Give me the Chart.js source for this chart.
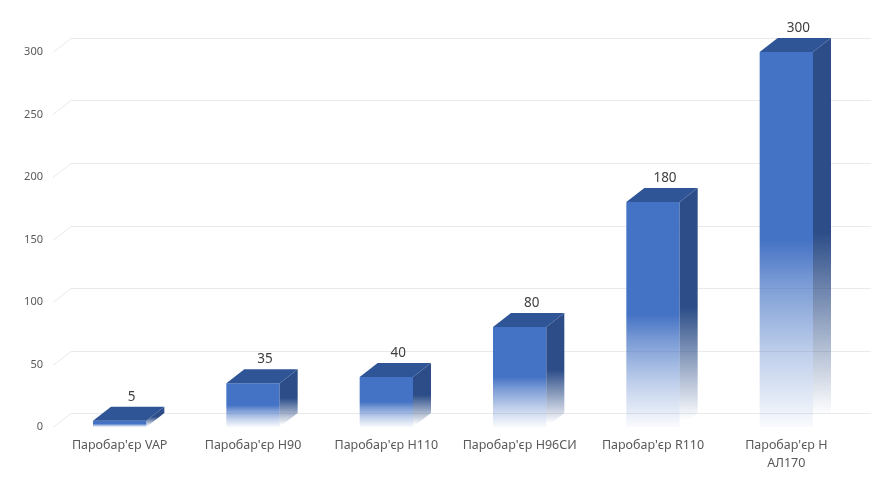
<!DOCTYPE html>
<html>
<head>
<meta charset="utf-8">
<script src="https://cdn.jsdelivr.net/npm/chart.js@4.4.0/dist/chart.umd.min.js"></script>
<style>
  html, body { margin: 0; padding: 0; background: #ffffff; }
  #wrap { width: 891px; height: 478px; position: relative; }
</style>
</head>
<body>
<div id="wrap"><canvas id="c" width="891" height="478"></canvas></div>
<script>
const categories = [
  "Паробар'єр VAP",
  "Паробар'єр Н90",
  "Паробар'єр Н110",
  "Паробар'єр Н96СИ",
  "Паробар'єр R110",
  ["Паробар'єр Н", "АЛ170"]
];
const values = [5, 35, 40, 80, 180, 300];
const yTicks = [0, 50, 100, 150, 200, 250, 300];

const DX = 18, DY = -14;
const FRONT = '#4472C4';
const TOP = '#2F5597';
const SIDE = '#2C4D88';

function rgba(hex, a) {
  const n = parseInt(hex.slice(1), 16);
  return `rgba(${(n >> 16) & 255},${(n >> 8) & 255},${n & 255},${a})`;
}

const box3d = {
  id: 'box3d',
  beforeDatasetsDraw(chart) {
    const { ctx, chartArea: a, scales: { y } } = chart;
    ctx.save();
    ctx.strokeStyle = '#EAEAEA';
    ctx.lineWidth = 1;
    yTicks.forEach(v => {
      const py = Math.round(y.getPixelForValue(v)) + 0.5;
      ctx.beginPath();
      ctx.moveTo(a.left, py);
      ctx.lineTo(a.left + DX, py + DY);
      ctx.lineTo(a.right + DX, py + DY);
      ctx.stroke();
    });
    ctx.restore();
  },
  afterDatasetsDraw(chart) {
    const { ctx, scales: { y } } = chart;
    const meta = chart.getDatasetMeta(0);
    const base = y.getPixelForValue(0);
    ctx.save();
    meta.data.forEach((bar, i) => {
      const half = bar.width / 2;
      const l = bar.x - half, r = bar.x + half, t = bar.y;
      const h = base - t;
      // side face
      const gs = ctx.createLinearGradient(0, t + DY, 0, base);
      gs.addColorStop(0, SIDE);
      gs.addColorStop(0.5, SIDE);
      gs.addColorStop(0.97, rgba(SIDE, 0.0));
      gs.addColorStop(1, rgba(SIDE, 0.0));
      ctx.fillStyle = gs;
      ctx.beginPath();
      ctx.moveTo(r, t);
      ctx.lineTo(r + DX, t + DY);
      ctx.lineTo(r + DX, base + DY);
      ctx.lineTo(r, base);
      ctx.closePath();
      ctx.fill();
      // top face
      ctx.fillStyle = TOP;
      ctx.beginPath();
      ctx.moveTo(l, t);
      ctx.lineTo(l + DX, t + DY);
      ctx.lineTo(r + DX, t + DY);
      ctx.lineTo(r, t);
      ctx.closePath();
      ctx.fill();
      // value label
      ctx.fillStyle = '#404040';
      ctx.font = '13.5px "Noto Sans", sans-serif';
      ctx.textAlign = 'center';
      ctx.textBaseline = 'middle';
      ctx.fillText(String(values[i]), bar.x + 12, t + DY - 10);
    });
    ctx.restore();
  }
};

new Chart(document.getElementById('c'), {
  type: 'bar',
  data: {
    labels: categories,
    datasets: [{
      data: values,
      borderWidth: 0,
      categoryPercentage: 0.8,
      barPercentage: 0.5,
      backgroundColor: (c) => {
        const chart = c.chart;
        if (!chart.chartArea || c.raw === undefined) return FRONT;
        const ys = chart.scales.y;
        const top = ys.getPixelForValue(c.raw);
        const base = ys.getPixelForValue(0);
        const g = chart.ctx.createLinearGradient(0, top, 0, base);
        g.addColorStop(0, FRONT);
        g.addColorStop(0.5, FRONT);
        g.addColorStop(0.62, rgba(FRONT, 0.7));
        g.addColorStop(0.8, rgba(FRONT, 0.35));
        g.addColorStop(1, rgba(FRONT, 0.03));
        return g;
      }
    }]
  },
  options: {
    responsive: false,
    animation: false,
    layout: { padding: { top: 52, right: 38, left: 0, bottom: 0 } },
    plugins: { legend: { display: false }, tooltip: { enabled: false } },
    scales: {
      x: {
        grid: { display: false, drawTicks: false },
        border: { display: false },
        ticks: {
          color: '#595959',
          font: { family: '"Noto Sans", sans-serif', size: 12.5, lineHeight: 1.44 },
          padding: 9,
          maxRotation: 0,
          autoSkip: false
        },
        afterFit(s) { s.height = 51; }
      },
      y: {
        min: 0, max: 300,
        grid: { display: false, drawTicks: false },
        border: { display: false },
        ticks: {
          stepSize: 50,
          color: '#595959',
          font: { family: '"Noto Sans", sans-serif', size: 11 },
          padding: 10
        },
        afterFit(s) { s.width = 53; }
      }
    }
  },
  plugins: [box3d]
});
</script>
</body>
</html>
